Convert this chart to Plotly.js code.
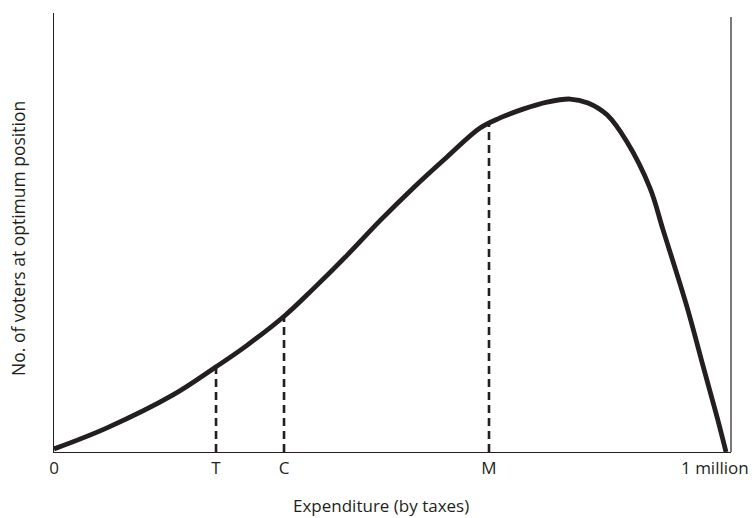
<!DOCTYPE html>
<html>
<head>
<meta charset="utf-8">
<script src="https://cdn.plot.ly/plotly-3.0.1.min.js"></script>
<style>html,body{margin:0;padding:0;background:#fff;}#chart{width:754px;height:518px;}</style>
</head>
<body>
<div id="chart"></div>
<script>
// Expenditure (fraction of 1 million) and number of voters at optimum position (relative units)
const curveX = [0, 0.0789, 0.1771, 0.2411, 0.2872, 0.3438, 0.3854, 0.4360, 0.4851, 0.5342, 0.5848, 0.6339, 0.6637, 0.6979, 0.7336, 0.7679, 0.7946, 0.8229, 0.8527, 0.8869, 0.9063, 0.9420, 0.9658, 0.9866, 1.0];
const curveY = [0.7, 5.5, 13.0, 19.4, 24.3, 31.1, 37.1, 44.8, 52.7, 60.1, 67.2, 73.8, 76.1, 78.1, 79.7, 80.4, 79.5, 76.8, 70.6, 60.1, 50.6, 33.0, 19.6, 8.0, 0];
// Marked positions T, C, M
const markLabels = ["T", "C", "M"];
const markX = [0.2411, 0.3423, 0.6473];
const markY = [19.4, 30.9, 74.8];
// Tick labels on the expenditure axis
const tickVals = [0, 0.2411, 0.3423, 0.6473, 1.0];
const tickText = ["0", "T", "C", "M", "1 million"];
const xTitle = "Expenditure (by taxes)";
const yTitle = "No. of voters at optimum position";

const ink = "#231f20";
const fontFam = "'Open Sans', 'Noto Sans', sans-serif";

const traces = [];
markX.forEach((x, i) => {
  traces.push({
    x: [x, x], y: [0, markY[i]], mode: "lines", type: "scatter", name: markLabels[i],
    line: {color: ink, width: 2.6, dash: "8px,5px"}, hoverinfo: "skip", showlegend: false
  });
});
traces.push({
  x: curveX, y: curveY, mode: "lines", type: "scatter",
  line: {color: ink, width: 4.8, shape: "spline", smoothing: 1.0}, showlegend: false
});

const last = tickVals.length - 1;
const layout = {
  width: 754, height: 518,
  margin: {l: 54, r: 23, t: 13, b: 66},
  paper_bgcolor: "#fff", plot_bgcolor: "#fff",
  font: {family: fontFam, color: ink, size: 17},
  showlegend: false,
  xaxis: {
    range: [0, 1.0074], showgrid: false, zeroline: false,
    showline: true, linecolor: ink, linewidth: 1.2,
    tickvals: tickVals.slice(0, last), ticktext: tickText.slice(0, last), ticks: "", ticklen: 0,
    tickfont: {family: fontFam, size: 17, color: ink}, automargin: false
  },
  yaxis: {
    range: [0, 100], showgrid: false, zeroline: false,
    showline: true, linecolor: ink, linewidth: 1.2,
    showticklabels: false, ticks: "", automargin: false
  },
  shapes: [
    {type: "line", xref: "paper", yref: "paper", x0: 1, x1: 1, y0: 0, y1: 0.991,
     line: {color: ink, width: 1.2}}
  ],
  annotations: [
    {text: tickText[last], xref: "x", yref: "paper", x: tickVals[last], y: -0.0342,
     xanchor: "center", yanchor: "middle", xshift: -11, showarrow: false,
     font: {family: fontFam, size: 17, color: ink}},
    {text: xTitle, xref: "paper", yref: "paper", x: 0.483, y: -0.123,
     xanchor: "center", yanchor: "middle", showarrow: false, font: {family: fontFam, size: 17, color: ink}},
    {text: yTitle, xref: "paper", yref: "paper", x: -0.0532, y: 0.4875,
     xanchor: "center", yanchor: "middle", textangle: -90, showarrow: false, font: {family: fontFam, size: 17.5, color: ink}}
  ]
};

Plotly.newPlot("chart", traces, layout, {displayModeBar: false, staticPlot: true});
</script>
</body>
</html>
